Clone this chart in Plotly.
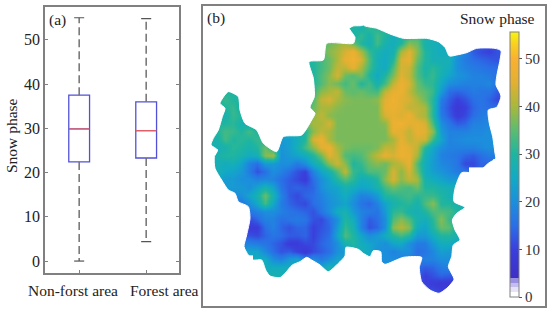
import plotly.graph_objects as go

W, H = 550, 315
FONT = "Liberation Serif"

# Panel (a) box statistics
group_pos = [1, 2]
group_names = ["Non-forst area", "Forest area"]
q1 = [22.4, 23.3]
median = [29.9, 29.5]
q3 = [37.5, 36.0]
low_whisker = [0.0, 4.4]
high_whisker = [55.0, 54.8]
y_ticks = [0, 10, 20, 30, 40, 50]

# Panel (b) snow phase read on a coarse grid: (first column, values)
map_start = [16, 16, 13, 12, 12, 12, 12, 12, 1, 0, 0, 0, 0, 0, 0, 0, 0, 0, 1, 1, 2, 3, 3, 4, 4, 4, 4, 4, 5, 6, 7, 7, 7, 26]
map_values = [
 [30,30,30,28,32,30,30,30],
 [28,28,28,32,28,33,30,26,28,31,33,29,27,28,26,26],
 [34,34,36,38,40,36,30,27,33,28,26,30,38,36,28,27,26,25,20,16,15,14,12,12,14],
 [30,32,34,38,40,44,47,40,32,28,26,27,40,45,38,30,27,26,26,22,18,13,11,10,12,12],
 [30,30,33,36,40,46,48,44,34,27,25,30,44,46,36,30,27,27,27,20,17,15,14,13,12,12],
 [30,30,33,36,42,42,46,40,33,27,25,34,44,43,34,29,31,28,26,20,18,17,16,15,15,15],
 [30,30,34,38,44,36,34,37,30,25,30,37,45,42,34,30,32,27,24,21,20,18,18,17,15,14],
 [30,30,34,38,36,33,36,30,33,28,33,42,47,44,36,32,31,25,20,19,18,18,18,19,16,14],
 [30,30,30,30,28,28,28,28,28,28,28,30,32,38,40,42,36,35,36,34,33,42,46,47,42,37,35,32,22,15,14,15,17,16,16,13,13],
 [30,30,32,30,30,28,28,28,28,28,28,28,30,34,42,44,40,38,37,37,37,38,45,48,45,44,40,36,30,17,13,10,12,15,16,14,11,11],
 [28,28,30,32,28,28,28,28,28,28,28,28,30,36,40,40,38,37,37,37,37,37,46,47,45,42,42,40,30,16,12,8,10,14,16,15,15,15],
 [28,28,28,32,30,28,28,28,28,28,28,28,32,38,42,38,37,37,37,37,37,37,44,46,44,47,42,40,30,17,13,9,11,15,17,18,18,18],
 [30,30,30,31,28,27,27,27,27,27,27,30,36,40,40,44,37,37,37,37,37,37,38,47,48,45,46,44,33,20,16,13,14,18,18,19,19,19],
 [30,30,33,32,30,33,30,28,26,26,28,28,30,38,42,40,37,37,37,37,37,37,37,46,45,42,46,45,38,22,18,18,18,19,19,20,20,20],
 [30,28,33,30,31,30,32,30,26,22,23,26,30,44,47,40,37,37,37,37,37,37,37,40,46,42,44,43,32,24,18,19,20,20,20,20,20,20],
 [28,27,28,31,30,28,30,36,30,21,23,27,33,38,45,47,40,37,36,36,36,37,42,42,47,45,42,30,24,20,18,18,18,18,19,20,20,20],
 [28,28,30,30,28,26,27,38,40,20,22,24,26,30,36,45,42,34,33,34,38,42,46,44,47,46,40,27,23,18,17,16,14,13,15,17,17,17],
 [27,27,26,27,24,18,15,22,22,20,20,17,20,26,30,38,43,38,30,32,36,38,36,40,42,46,34,26,22,19,18,16,11,11,14,14],
 [27,25,24,22,17,12,15,20,18,15,12,10,18,24,28,34,42,32,30,34,34,36,44,38,44,36,26,23,21,19,17,16],
 [25,22,22,20,20,18,19,18,15,13,11,9,15,20,24,30,34,31,26,27,30,38,44,38,42,40,28,26,24,22,22],
 [22,22,22,20,24,28,24,16,13,14,13,14,20,23,24,28,26,24,25,28,33,36,34,33,36,30,30,28,27,27],
 [20,20,24,28,36,28,18,13,11,14,15,18,21,23,26,22,18,19,22,30,31,32,33,31,32,32,30,27,27],
 [16,16,20,25,33,25,17,14,12,11,15,17,20,22,24,20,16,14,18,24,28,30,31,28,34,38,30,30,28,27,27],
 [16,16,18,20,20,18,16,15,14,12,16,20,26,28,22,18,17,16,22,31,32,28,27,30,34,34,33,30,27,27],
 [11,11,14,18,18,15,16,17,16,12,11,15,20,30,26,18,13,15,20,34,38,34,28,26,31,38,32,30,28],
 [9,9,9,15,18,14,12,14,14,10,12,14,22,32,28,18,12,14,20,38,41,38,26,24,30,36,35,28,28],
 [12,12,11,14,16,15,13,13,14,10,13,15,24,34,30,24,20,22,26,30,33,30,22,22,26,30,30,28,28],
 [18,18,17,16,14,12,9,9,11,11,14,16,20,28,30,26,24,22,20,24,25,20,17,17,22,26,26,24,24],
 [24,24,19,15,12,13,10,8,11,13,15,20,22,27,27,25,20,20,18,20,20,15,16,19,23,22,22],
 [26,26,20,18,22,24,18,20,17,20,24,24,26,26,24,20,20,20,18,18,16,18,18,20,20,20],
 [26,26,26,26,26,24,24,24,28,24,24,22,22,22,20,20,20,18,16,15,13,14,17,18,18],
 [27,28,27,26,26,26,25,25,25,25,24,24,22,22,20,20,18,16,15,13,10,12,14,13,13],
 [27,27,27,26,26,26,26,26,26,26,25,25,24,24,22,20,18,14,12,12,10,9,8,8,8],
 [12,12,12,10,10,10],
]

# Map outline in map units
outline_x = [475,515,555,595,665,700,720,733,755,785,815,870,888,885,875,873,888,875,850,853,863,870,872,850,815,795,770,750,747,780,755,742,750,765,745,740,730,747,725,702,675,650,643,650,595,540,530,527,505,495,475,460,423,420,400,370,345,320,305,285,262,240,225,195,182,170,145,130,117,125,135,130,100,90,70,50,30,28,38,18,25,40,52,60,45,70,100,105,120,155,175,215,235,290,320,330,315,328,325,312,355,365,445,450,433,445,475]
outline_y = [75,85,102,115,115,125,142,168,165,158,145,145,152,180,230,255,288,322,330,370,410,460,475,490,520,518,518,565,605,622,640,660,690,720,735,770,800,838,865,880,870,845,802,772,772,793,785,755,752,770,760,748,742,768,790,815,795,780,772,785,795,820,833,828,810,780,780,765,740,705,655,620,605,580,570,540,505,470,450,435,415,390,350,325,310,275,290,330,370,390,430,455,410,405,360,340,322,290,235,185,180,130,130,112,85,78,75]

cbar_ticks = [0, 10, 20, 30, 40, 50]
ZMAX = 55.6
color_stops = [(0,"#ffffff"),(1,"#ffffff"),(1,"#e6e3f8"),(2,"#e6e3f8"),(2,"#c4bdf0"),(3,"#c4bdf0"),(3,"#9a90e2"),(4,"#9a90e2"),(4,"#3d2fc6"),(10,"#3a3fdc"),(15,"#2a6fe6"),(20,"#1c8fdc"),(25,"#12aac4"),(30,"#1fb5a0"),(35,"#5cbc70"),(40,"#a8b83c"),(45,"#e2b032"),(50,"#f9b130"),(53,"#f8d020"),(55.6,"#f8f50f")]

n_cols = 38
z = []
for start, vals in zip(map_start, map_values):
    row = [None] * n_cols
    row[start:start + len(vals)] = vals
    z.append(row)
grid_x = [12 + 24 * i for i in range(n_cols)]
grid_y = [82 + 24 * i for i in range(len(z))]

fig = go.Figure()

# panel (a)
BLUE, RED, GREY = "#5050d8", "#e0606a", "#707070"
fig.add_trace(go.Box(x=group_pos, q1=q1, median=median, q3=q3, lowerfence=q1, upperfence=q3,
                     width=0.31, whiskerwidth=0, line=dict(color=BLUE, width=1.3),
                     fillcolor="rgba(0,0,0,0)", showlegend=False, xaxis="x", yaxis="y"))
for i, p in enumerate(group_pos):
    for a, b in ((q3[i], high_whisker[i]), (q1[i], low_whisker[i])):
        fig.add_trace(go.Scatter(x=[p, p], y=[a, b], mode="lines", showlegend=False,
                                 line=dict(color=GREY, width=1.5, dash="8px,4px"), xaxis="x", yaxis="y"))
    for c in (high_whisker[i], low_whisker[i]):
        fig.add_trace(go.Scatter(x=[p - 0.075, p + 0.075], y=[c, c], mode="lines", showlegend=False,
                                 line=dict(color="#555555", width=1.2), xaxis="x", yaxis="y"))
    fig.add_trace(go.Scatter(x=[p - 0.152, p + 0.152], y=[median[i], median[i]], mode="lines", showlegend=False,
                             line=dict(color=RED, width=1.3), xaxis="x", yaxis="y"))

# panel (b)
scale = [[v / ZMAX, c] for v, c in color_stops]
fig.add_trace(go.Heatmap(x=grid_x, y=grid_y, z=z, zmin=0, zmax=ZMAX, zsmooth="best", colorscale=scale,
                         hoverinfo="skip", xaxis="x2", yaxis="y2",
                         colorbar=dict(x=510 / W, xanchor="left", xpad=0, ypad=0, thickness=8.5,
                                       lenmode="pixels", len=265, y=(H - 297) / H, yanchor="bottom",
                                       tickvals=cbar_ticks, ticks="outside", ticklen=3, tickcolor="#555555",
                                       tickfont=dict(family=FONT, size=15, color="#333333"),
                                       outlinecolor="#808080", outlinewidth=1)))
L, R, T, B = -5, 1010, 30, 910
fig.add_trace(go.Scatter(x=[475, L, L, R, R, 475] + outline_x + [475],
                         y=[T, T, B, B, T, T] + outline_y + [T],
                         mode="lines", fill="toself", fillcolor="white",
                         line=dict(color="white", width=1, shape="spline", smoothing=0.6),
                         hoverinfo="skip", showlegend=False, xaxis="x2", yaxis="y2"))

label_style = dict(xref="paper", yref="paper", showarrow=False, yanchor="middle",
                   font=dict(family=FONT, size=15.5, color="#222222"))
frame = dict(showline=True, linecolor="#808080", linewidth=1.6, mirror=True, zeroline=False, showgrid=False)
fig.update_layout(
    width=W, height=H, margin=dict(l=0, r=0, t=0, b=0, autoexpand=False), paper_bgcolor="white", plot_bgcolor="white",
    font=dict(family=FONT, color="#222222"), showlegend=False,
    xaxis=dict(frame, mirror=True, domain=[45 / W, 179 / W], range=[0.49, 2.49], tickvals=group_pos,
               showticklabels=False, ticks="inside", ticklen=3, tickcolor="#808080", automargin=False, anchor="y"),
    yaxis=dict(frame, mirror="ticks", domain=[1 - 273 / H, 1 - 6.7 / H], range=[-2.7, 57.5], tickvals=y_ticks,
               ticks="inside", ticklen=3, tickcolor="#808080", automargin=False,
               tickfont=dict(family=FONT, size=16, color="#222222"), anchor="x"),
    xaxis2=dict(frame, domain=[203 / W, 545 / W], range=[-6, 1020], showticklabels=False, ticks="", anchor="y2"),
    yaxis2=dict(frame, domain=[1 - 306 / H, 1 - 5.5 / H], range=[918, 16.5], showticklabels=False, ticks="", anchor="x2"),
    annotations=[
        dict(label_style, text=group_names[0], x=73 / W, y=1 - 290 / H, xanchor="center"),
        dict(label_style, text=group_names[1], x=164 / W, y=1 - 290 / H, xanchor="center"),
        dict(label_style, text="(a)", x=47 / W, y=1 - 20 / H, xanchor="left"),
        dict(label_style, text="(b)", x=205 / W, y=1 - 18 / H, xanchor="left"),
        dict(label_style, text="Snow phase", x=537 / W, y=1 - 18 / H, xanchor="right"),
        dict(label_style, text="Snow phase", x=11 / W, y=1 - 136 / H, xanchor="center", textangle=-90),
    ],
)
fig.write_html("out.html", post_script="document.body.style.margin='0';",
               config=dict(displayModeBar=False))
